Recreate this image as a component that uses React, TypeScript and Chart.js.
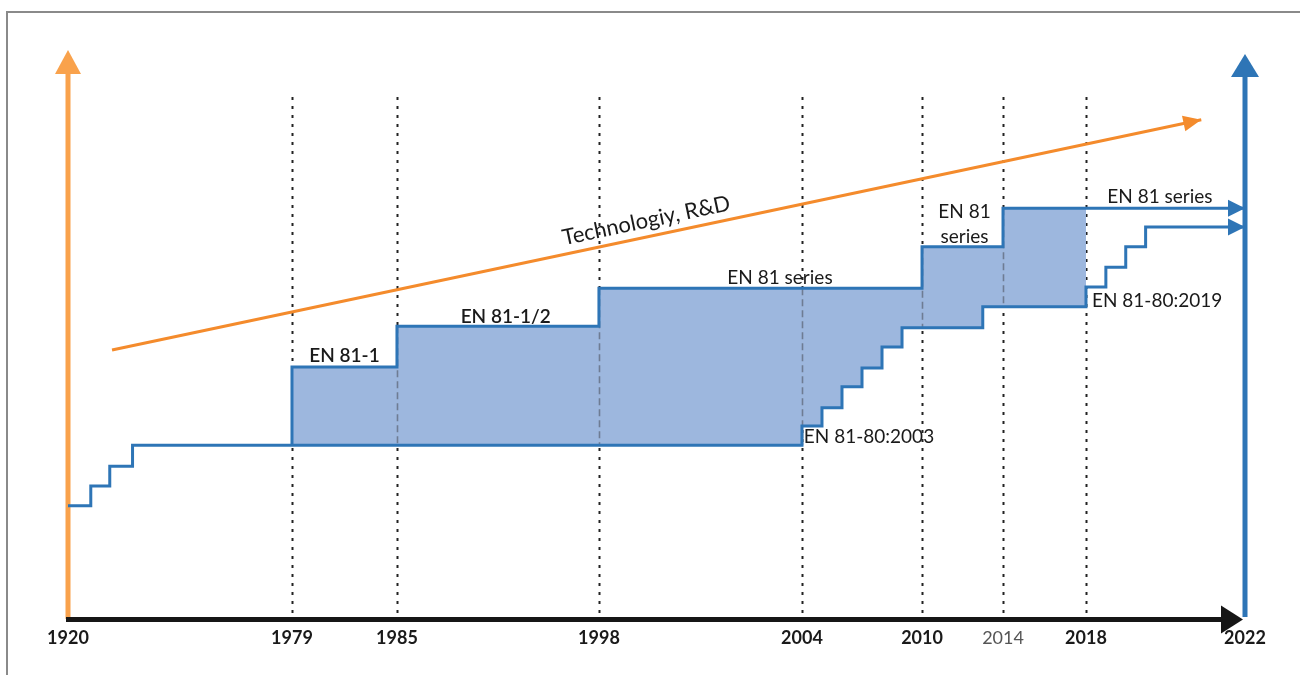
import React, { useEffect, useRef } from 'react';
import { Chart, registerables, LinearScale } from 'chart.js';

// ---------- axis (schematic, non-linear time axis) ----------
const TICK_YEARS = [1920, 1979, 1985, 1998, 2004, 2010, 2014, 2018, 2022];
const TICK_SPACING = [0, 0.1903, 0.2795, 0.4511, 0.6236, 0.7256, 0.7944, 0.8649, 1];
const MUTED_TICKS = [2014];

// ---------- data ----------
const LOWER_CHANGE_YEARS = [1920, 1926, 1931, 1937, 2004, 2005, 2006, 2007, 2008, 2009, 2013, 2018, 2018.5, 2019, 2019.5];
const LOWER_LEVELS = [19.6, 23.1, 26.6, 30.3, 33.7, 36.9, 40.6, 43.9, 47.6, 51.0, 54.7, 58.2, 61.7, 65.3, 68.8];
const UPPER_CHANGE_YEARS = [1979, 1985, 1998, 2010, 2014];
const UPPER_LEVELS = [44.1, 51.3, 58.0, 65.3, 72.1];
const END_YEAR = 2022;
const FILL_FROM = 1979;
const FILL_TO = 2018;
const TREND_YEARS = [1931.6, 2020.9];
const TREND_LEVELS = [47.1, 87.7];
const GUIDE_YEARS = [1979, 1985, 1998, 2004, 2010, 2014, 2018];
const GUIDE_TOP = 91.7;

const LABEL_TEXTS = ['EN 81-1', 'EN 81-1/2', 'EN 81 series', 'EN 81-80:2003', 'EN 81', 'series', 'EN 81 series', 'EN 81-80:2019'];
const LABEL_YEARS = [1982.0, 1992.0, 2003.35, 2007.35, 2012.1, 2012.1, 2019.86, 2019.79];
const LABEL_LEVELS = [46.0, 52.9, 59.8, 31.7, 71.4, 67.0, 74.1, 55.7];
const LABEL_BOLD = [true, true, false, false, false, false, false, false];
const TREND_TEXT = 'Technologiy, R&D';
const TREND_TEXT_YEAR = 1999.4;
const TREND_TEXT_LEVEL = 69.9;

// ---------- styles ----------
const BLUE = '#2E75B6';
const FILL = '#9DB7DE';
const ORANGE_AXIS = '#F9A24C';
const ORANGE_TREND = '#F48B2C';
const FONT = 'Lato, "Open Sans", sans-serif';

class PiecewiseScale extends LinearScale {
  static id = 'piecewise';
  static defaults = LinearScale.defaults;
  getPixelForValue(value: any) {
    const v = Number(value);
    let i = 0;
    while (i < TICK_YEARS.length - 2 && v > TICK_YEARS[i + 1]) i++;
    const f = TICK_SPACING[i] + ((v - TICK_YEARS[i]) / (TICK_YEARS[i + 1] - TICK_YEARS[i])) * (TICK_SPACING[i + 1] - TICK_SPACING[i]);
    return this.getPixelForDecimal(f);
  }
  getValueForPixel(pixel: number) {
    const f = this.getDecimalForPixel(pixel);
    let i = 0;
    while (i < TICK_SPACING.length - 2 && f > TICK_SPACING[i + 1]) i++;
    return TICK_YEARS[i] + ((f - TICK_SPACING[i]) / (TICK_SPACING[i + 1] - TICK_SPACING[i])) * (TICK_YEARS[i + 1] - TICK_YEARS[i]);
  }
}

Chart.register(...registerables, PiecewiseScale as any);

function levelAt(years: number[], levels: number[], x: number) {
  let r: number | undefined = undefined;
  years.forEach((y, i) => { if (y <= x) r = levels[i]; });
  return r;
}
function levelBefore(years: number[], levels: number[], x: number) {
  let r: number | undefined = undefined;
  years.forEach((y, i) => { if (y < x) r = levels[i]; });
  return r;
}

function stepPoints(years: number[], levels: number[], endYear?: number, baseLevel?: number) {
  const pts: { x: number; y: number }[] = [];
  years.forEach((x, i) => {
    const prev = i === 0 ? baseLevel : levels[i - 1];
    if (prev !== undefined && prev !== levels[i]) pts.push({ x, y: prev });
    pts.push({ x, y: levels[i] });
  });
  if (endYear !== undefined) pts.push({ x: endYear, y: levels[levels.length - 1] });
  return pts;
}

function bandPoints(years: number[], levels: number[], from: number, to: number) {
  const innerY: number[] = [];
  const innerL: number[] = [];
  years.forEach((y, i) => { if (y > from && y < to) { innerY.push(y); innerL.push(levels[i]); } });
  const startLevel = levelAt(years, levels, from) as number;
  return stepPoints([from, ...innerY], [startLevel, ...innerL], to);
}

function arrowHead(ctx: CanvasRenderingContext2D, tx: number, ty: number, angle: number, len: number, half: number, color: string) {
  ctx.save();
  ctx.translate(tx, ty);
  ctx.rotate(angle);
  ctx.beginPath();
  ctx.moveTo(0, 0);
  ctx.lineTo(-len, -half);
  ctx.lineTo(-len, half);
  ctx.closePath();
  ctx.fillStyle = color;
  ctx.fill();
  ctx.restore();
}

const diagramPlugin = {
  id: 'diagram',
  beforeDraw(chart: any) {
    const ctx = chart.ctx as CanvasRenderingContext2D;
    ctx.save();
    ctx.fillStyle = '#ffffff';
    ctx.fillRect(0, 0, chart.width, chart.height);
    ctx.strokeStyle = '#8a8a8a';
    ctx.lineWidth = 2;
    ctx.strokeRect(7, 12, chart.width + 50, chart.height + 50);
    ctx.restore();
  },
  beforeDatasetsDraw(chart: any) {
    const ctx = chart.ctx as CanvasRenderingContext2D;
    const x = chart.scales.x, y = chart.scales.y;
    const y0 = y.getPixelForValue(0);
    // dotted guides
    ctx.save();
    ctx.strokeStyle = '#222';
    ctx.lineWidth = 2;
    ctx.setLineDash([3, 6]);
    GUIDE_YEARS.forEach((yr) => {
      const px = Math.round(x.getPixelForValue(yr)) + 0.5;
      ctx.beginPath();
      ctx.moveTo(px, y.getPixelForValue(GUIDE_TOP));
      ctx.lineTo(px, y0);
      ctx.stroke();
    });
    ctx.restore();

    // left orange axis
    const lx = x.getPixelForValue(TICK_YEARS[0]);
    const topY = y.getPixelForValue(100);
    ctx.save();
    ctx.fillStyle = ORANGE_AXIS;
    ctx.fillRect(lx - 2.5, topY + 22, 5, y0 - topY - 22 + 2);
    arrowHead(ctx, lx, topY, -Math.PI / 2, 24, 13, ORANGE_AXIS);
    // right blue axis
    const rx = x.getPixelForValue(END_YEAR);
    const rTop = y.getPixelForValue(99.3);
    ctx.fillStyle = BLUE;
    ctx.fillRect(rx - 2.5, rTop + 22, 5, y0 - rTop - 22);
    arrowHead(ctx, rx, rTop, -Math.PI / 2, 23, 14, BLUE);
    // bottom black axis
    ctx.fillStyle = '#161616';
    ctx.fillRect(lx - 2, y0, rx - 22 - lx + 2, 5);
    arrowHead(ctx, rx - 2, y0 + 2.5, 0, 22, 14, '#161616');
    ctx.restore();
  },
  afterDatasetDraw(chart: any, args: any) {
    if (args.index !== 2) return;
    const ctx = chart.ctx as CanvasRenderingContext2D;
    const x = chart.scales.x, y = chart.scales.y;
    ctx.save();
    ctx.strokeStyle = '#6E7C93';
    ctx.lineWidth = 1.6;
    ctx.setLineDash([7, 4]);
    GUIDE_YEARS.filter((g) => g > FILL_FROM && g < FILL_TO).forEach((g) => {
      const lo = Math.min(levelBefore(LOWER_CHANGE_YEARS, LOWER_LEVELS, g) as number, levelAt(LOWER_CHANGE_YEARS, LOWER_LEVELS, g) as number);
      const hi = Math.max(levelBefore(UPPER_CHANGE_YEARS, UPPER_LEVELS, g) as number, levelAt(UPPER_CHANGE_YEARS, UPPER_LEVELS, g) as number);
      const px = Math.round(x.getPixelForValue(g)) + 0.5;
      ctx.beginPath();
      ctx.moveTo(px, y.getPixelForValue(hi));
      ctx.lineTo(px, y.getPixelForValue(lo));
      ctx.stroke();
    });
    ctx.restore();
  },
  afterDatasetsDraw(chart: any) {
    const ctx = chart.ctx as CanvasRenderingContext2D;
    const x = chart.scales.x, y = chart.scales.y;
    // arrows at ends of the blue lines
    [0, 1].forEach((di) => {
      const pts = chart.getDatasetMeta(di).data;
      const last = pts[pts.length - 1];
      arrowHead(ctx, last.x, last.y, 0, 17, 8.5, BLUE);
    });
    // trend arrow
    const tp = chart.getDatasetMeta(4).data;
    const a0 = tp[0], a1 = tp[tp.length - 1];
    const ang = Math.atan2(a1.y - a0.y, a1.x - a0.x);
    arrowHead(ctx, a1.x, a1.y, ang, 18, 8, ORANGE_TREND);

    ctx.save();
    ctx.fillStyle = '#1a1a1a';
    ctx.textAlign = 'center';
    ctx.textBaseline = 'middle';
    LABEL_TEXTS.forEach((t, i) => {
      ctx.font = `${LABEL_BOLD[i] ? '600 ' : ''}19px ${FONT}`;
      ctx.fillText(t, x.getPixelForValue(LABEL_YEARS[i]), y.getPixelForValue(LABEL_LEVELS[i]));
    });
    ctx.translate(x.getPixelForValue(TREND_TEXT_YEAR), y.getPixelForValue(TREND_TEXT_LEVEL));
    ctx.rotate(ang);
    ctx.font = `22px ${FONT}`;
    ctx.fillText(TREND_TEXT, 0, 0);
    ctx.restore();
  },
};

export default function App() {
  const ref = useRef<HTMLCanvasElement>(null);
  useEffect(() => {
    document.body.style.margin = '0';
    const lower = stepPoints(LOWER_CHANGE_YEARS, LOWER_LEVELS, END_YEAR);
    const upper = stepPoints(UPPER_CHANGE_YEARS, UPPER_LEVELS, END_YEAR, levelAt(LOWER_CHANGE_YEARS, LOWER_LEVELS, UPPER_CHANGE_YEARS[0]));
    const bandTop = bandPoints(UPPER_CHANGE_YEARS, UPPER_LEVELS, FILL_FROM, FILL_TO);
    const bandBottom = bandPoints(LOWER_CHANGE_YEARS, LOWER_LEVELS, FILL_FROM, FILL_TO);
    const trend = TREND_YEARS.map((yr, i) => ({ x: yr, y: TREND_LEVELS[i] }));

    const chart = new Chart(ref.current as HTMLCanvasElement, {
      type: 'line',
      data: {
        datasets: [
          { data: lower, borderColor: BLUE, borderWidth: 3, pointRadius: 0, fill: false, order: 1, borderJoinStyle: 'miter' },
          { data: upper, borderColor: BLUE, borderWidth: 3, pointRadius: 0, fill: false, order: 1, borderJoinStyle: 'miter' },
          { data: bandTop, borderColor: 'transparent', borderWidth: 0, pointRadius: 0, backgroundColor: FILL, fill: '+1', order: 5 },
          { data: bandBottom, borderColor: 'transparent', borderWidth: 0, pointRadius: 0, fill: false, order: 5 },
          { data: trend, borderColor: ORANGE_TREND, borderWidth: 3, pointRadius: 0, fill: false, order: 2 },
        ] as any,
      },
      options: {
        responsive: false,
        animation: false,
        layout: { padding: { left: 68, right: 55, top: 50, bottom: 0 } },
        plugins: { legend: { display: false }, tooltip: { enabled: false } },
        scales: {
          x: {
            type: 'piecewise' as any,
            position: 'bottom',
            min: TICK_YEARS[0],
            max: TICK_YEARS[TICK_YEARS.length - 1],
            grid: { display: false, drawTicks: true, tickLength: 8 },
            border: { display: false },
            afterBuildTicks: (s: any) => { s.ticks = TICK_YEARS.map((v) => ({ value: v })); },
            afterFit: (s: any) => { s.height = 58; },
            ticks: {
              autoSkip: false,
              maxRotation: 0,
              padding: 2,
              callback: (v: any) => String(v),
              color: (c: any) => (MUTED_TICKS.includes(c.tick?.value) ? '#555' : '#1a1a1a'),
              font: (c: any) => ({ family: FONT, size: 18, weight: MUTED_TICKS.includes(c.tick?.value) ? 'normal' : 'bold' }),
            },
          } as any,
          y: { type: 'linear', min: 0, max: 100, display: false },
        },
      },
      plugins: [diagramPlugin],
    } as any);
    return () => chart.destroy();
  }, []);
  return (
    <div style={{ width: 1300, height: 675 }}>
      <canvas ref={ref} width={1300} height={675} style={{ display: 'block' }} />
    </div>
  );
}
